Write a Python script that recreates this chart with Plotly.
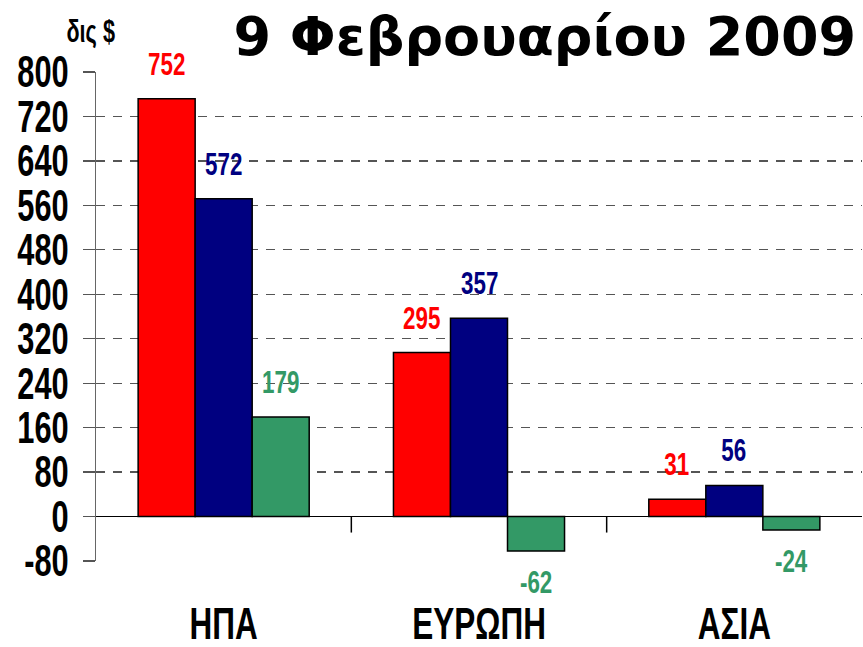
import plotly.graph_objects as go

categories = ["ΗΠΑ", "ΕΥΡΩΠΗ", "ΑΣΙΑ"]
series_names = ["Σειρά 1", "Σειρά 2", "Σειρά 3"]
series_values = [
    [752, 295, 31],
    [572, 357, 56],
    [179, -62, -24],
]
series_colors = ["#FF0000", "#000080", "#339966"]
y_tickvals = [-80, 0, 80, 160, 240, 320, 400, 480, 560, 640, 720, 800]
y_ticktext = ["-80", "0", "80", "160", "240", "320", "400", "480", "560", "640", "720", "800"]
title_text = "9 Φεβρουαρίου 2009"
unit_text = "δις $"

NARROW = "Liberation Sans, Arial, sans-serif"

W, H = 863, 647
ML, MR, MT, MB = 96, 1, 72, 86
plot_w = W - ML - MR
n_cat = len(categories)
n_ser = len(series_values)
bargap = 0.33
cat_px = plot_w / n_cat
bar_px = cat_px * (1 - bargap) / n_ser

fig = go.Figure()
for s in range(n_ser):
    fig.add_trace(go.Bar(
        x=categories, y=series_values[s], name=series_names[s],
        marker=dict(color=series_colors[s], line=dict(color="black", width=1.5)),
        showlegend=False, hoverinfo="skip",
    ))

annotations = []
for s in range(n_ser):
    offset = (s - (n_ser - 1) / 2) * bar_px
    for i, c in enumerate(categories):
        v = series_values[s][i]
        annotations.append(dict(
            x=c, y=v, xref="x", yref="y", text=f"<b>{v}</b>", showarrow=False,
            xshift=offset, yshift=35 if v >= 0 else -31,
            font=dict(family=NARROW, size=32, color=series_colors[s]),
            xanchor="center", yanchor="middle",
        ))

annotations.append(dict(
    x=0, y=1, xref="paper", yref="paper", text=f"<b>{unit_text}</b>",
    showarrow=False, xanchor="center", yanchor="middle", xshift=-6, yshift=41,
    font=dict(family=NARROW, size=31, color="black"),
))

shapes = []
for i in range(n_cat - 1):
    shapes.append(dict(
        type="line", xref="x", yref="y", x0=i + 0.5, x1=i + 0.5,
        ysizemode="pixel", yanchor=0, y0=0, y1=-16,
        line=dict(color="black", width=1.5),
    ))

fig.update_layout(
    width=W, height=H,
    margin=dict(l=ML, r=MR, t=MT, b=MB, pad=0, autoexpand=False),
    paper_bgcolor="white", plot_bgcolor="white",
    barmode="group", bargap=bargap, bargroupgap=0,
    title=dict(
        text=f"<b>{title_text}</b>", x=0.992, xref="container", xanchor="right",
        y=1 - 36 / H, yref="container", yanchor="middle",
        font=dict(family="DejaVu Sans", size=54, color="black"),
        automargin=False,
    ),
    xaxis=dict(
        type="category", range=[-0.5, n_cat - 0.5], automargin=False,
        showline=False, showgrid=False, zeroline=False,
        ticks="outside", ticklen=23, tickcolor="rgba(0,0,0,0)",
        tickfont=dict(family=NARROW, size=45, color="black"),
        tickprefix="<b>", ticksuffix="</b>",
    ),
    yaxis=dict(
        range=[-80, 800], tickvals=y_tickvals, ticktext=[f"<b>{t}</b>" for t in y_ticktext],
        automargin=False,
        showgrid=True, gridcolor="#555555", gridwidth=1.3, griddash="9px,8px",
        zeroline=True, zerolinecolor="black", zerolinewidth=1.5,
        showline=True, linecolor="#666666", linewidth=1.5,
        ticks="outside", ticklen=12, tickcolor="#555555", tickwidth=1.3,
        ticklabelstandoff=5,
        tickfont=dict(family=NARROW, size=44, color="black"),
    ),
    annotations=annotations,
    shapes=shapes,
)

post_script = """
(function(){
  document.body.style.margin = '0';
  document.body.style.padding = '0';
  var gd = document.getElementById('{plot_id}');
  function squeeze(){
    var sel = gd.querySelectorAll('.ytick text, .xtick text, text.annotation-text');
    sel.forEach(function(el){
      var t = el.getAttribute('transform') || '';
      if (t.indexOf('scale(0.7') >= 0) return;
      var bb = el.getBBox();
      var anchor = el.getAttribute('text-anchor');
      var cx = anchor === 'end' ? bb.x + bb.width : (anchor === 'start' ? bb.x : bb.x + bb.width / 2);
      el.setAttribute('transform', t + ' translate(' + cx + ',0) scale(0.7,1) translate(' + (-cx) + ',0)');
    });
  }
  squeeze();
  if (gd.on) { gd.on('plotly_afterplot', squeeze); }
})();
"""

fig.write_html("out.html", post_script=post_script,
               config={"displayModeBar": False, "staticPlot": True})
